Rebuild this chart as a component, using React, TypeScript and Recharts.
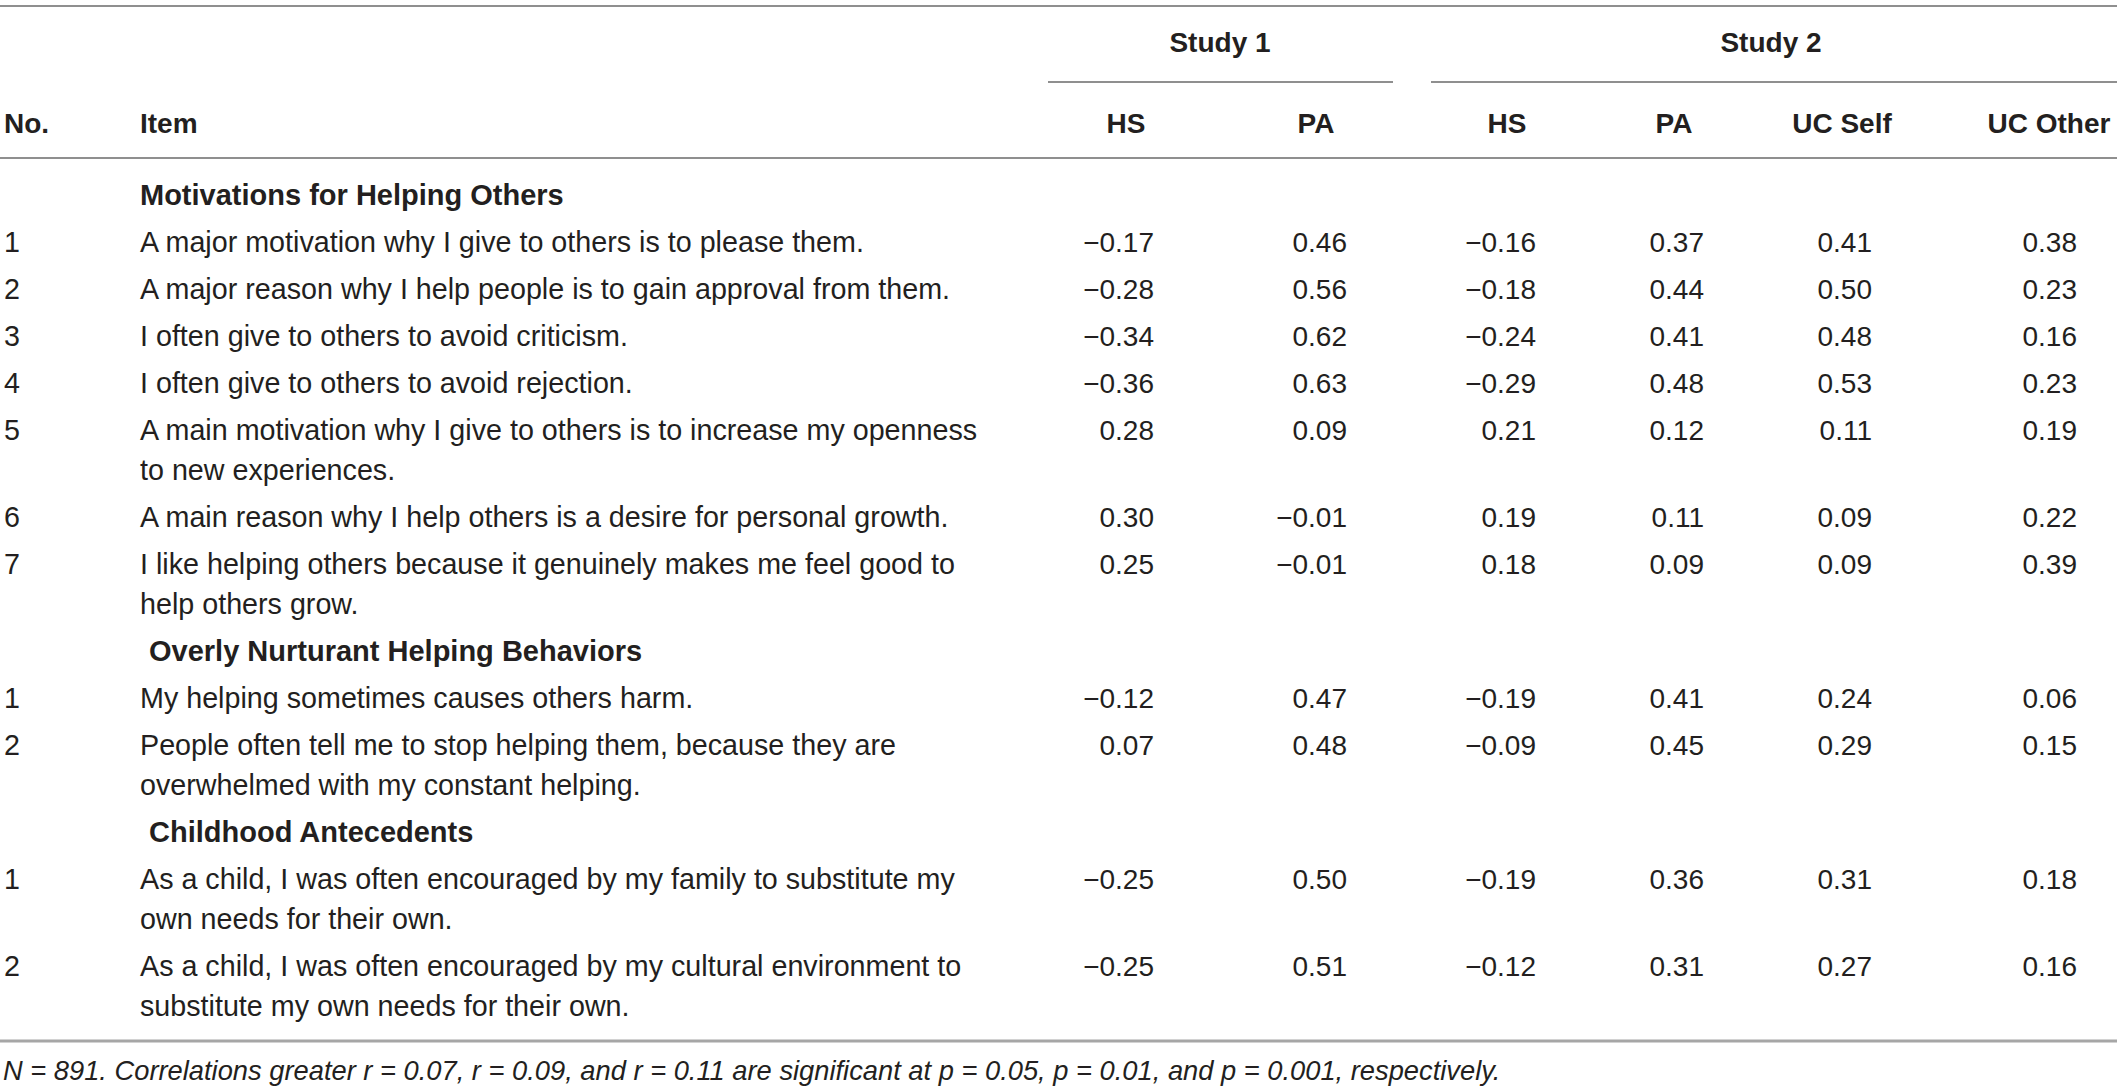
import React from "react";
import { ScatterChart, Scatter, XAxis, YAxis, ReferenceLine } from "recharts";

// ---------------- DATA ----------------
const studyLabels = ["Study 1", "Study 2"];
const columnLabels = ["HS", "PA", "HS", "PA", "UC Self", "UC Other"];
const leftHeaders = ["No.", "Item"];
const sections = [
  "Motivations for Helping Others",
  "Overly Nurturant Helping Behaviors",
  "Childhood Antecedents",
];
const itemSection = [0, 0, 0, 0, 0, 0, 0, 1, 1, 2, 2];
const itemNo = ["1", "2", "3", "4", "5", "6", "7", "1", "2", "1", "2"];
const itemLines = [
  ["A major motivation why I give to others is to please them."],
  ["A major reason why I help people is to gain approval from them."],
  ["I often give to others to avoid criticism."],
  ["I often give to others to avoid rejection."],
  ["A main motivation why I give to others is to increase my openness", "to new experiences."],
  ["A main reason why I help others is a desire for personal growth."],
  ["I like helping others because it genuinely makes me feel good to", "help others grow."],
  ["My helping sometimes causes others harm."],
  ["People often tell me to stop helping them, because they are", "overwhelmed with my constant helping."],
  ["As a child, I was often encouraged by my family to substitute my", "own needs for their own."],
  ["As a child, I was often encouraged by my cultural environment to", "substitute my own needs for their own."],
];
const study1HS = [-0.17, -0.28, -0.34, -0.36, 0.28, 0.3, 0.25, -0.12, 0.07, -0.25, -0.25];
const study1PA = [0.46, 0.56, 0.62, 0.63, 0.09, -0.01, -0.01, 0.47, 0.48, 0.5, 0.51];
const study2HS = [-0.16, -0.18, -0.24, -0.29, 0.21, 0.19, 0.18, -0.19, -0.09, -0.19, -0.12];
const study2PA = [0.37, 0.44, 0.41, 0.48, 0.12, 0.11, 0.09, 0.41, 0.45, 0.36, 0.31];
const study2UCSelf = [0.41, 0.5, 0.48, 0.53, 0.11, 0.09, 0.09, 0.24, 0.29, 0.31, 0.27];
const study2UCOther = [0.38, 0.23, 0.16, 0.23, 0.19, 0.22, 0.39, 0.06, 0.15, 0.18, 0.16];
const footnote =
  "N = 891. Correlations greater r = 0.07, r = 0.09, and r = 0.11 are significant at p = 0.05, p = 0.01, and p = 0.001, respectively.";

const valueColumns = [study1HS, study1PA, study2HS, study2PA, study2UCSelf, study2UCOther];

// ---------------- LAYOUT (style) ----------------
const W = 2117;
const H = 1090;
const FONT = '"Liberation Sans", Arial, Helvetica, sans-serif';
const INK = "#231f20";
const RULE = "#8f8f8f";
const FS_HEAD = 28;
const FS_SECTION = 29;
const FS_ITEM = 28.7;
const FS_NUM = 28;
const FS_FOOT = 27.3;
const COL_RIGHT = [1154, 1347, 1536, 1704, 1872, 2077];
const COL_HEADER_X = [1126, 1316, 1507, 1674, 1842, 2049];
const STUDY_X = [1220, 1771];
const STUDY_RULE = [
  [1048, 1393],
  [1431, 2117],
];
const LEFT_X = [4, 140];
const SECTION_X = [140, 149, 149];
const STUDY_Y = 42;
const HEADER_Y = 123;
const FIRST_ROW_Y = 195;
const ROW_STEP = 47;
const LINE_STEP = 40;
const FOOT_Y = 1070;

const fmt = (v: number) => (v < 0 ? "\u2212" + Math.abs(v).toFixed(2) : v.toFixed(2));

// Build positions of rows
type Row = { y: number; idx: number };
const sectionPts: any[] = [];
const itemRows: Row[] = [];
{
  let y = FIRST_ROW_Y;
  let cur = -1;
  itemLines.forEach((lines, i) => {
    if (itemSection[i] !== cur) {
      cur = itemSection[i];
      sectionPts.push({ x: SECTION_X[cur], y, text: sections[cur] });
      y += ROW_STEP;
    }
    itemRows.push({ y, idx: i });
    y += LINE_STEP * (lines.length - 1) + ROW_STEP;
  });
}

const noPts = itemRows.map((r) => ({ x: LEFT_X[0], y: r.y, text: itemNo[r.idx] }));
const itemPts = itemRows.map((r) => ({ x: LEFT_X[1], y: r.y, lines: itemLines[r.idx] }));
const valuePts = valueColumns.map((col, c) =>
  itemRows.map((r) => ({ x: COL_RIGHT[c], y: r.y, text: fmt(col[r.idx]) }))
);
const colHeaderPts = columnLabels.map((t, c) => ({ x: COL_HEADER_X[c], y: HEADER_Y, text: t }));
const leftHeaderPts = leftHeaders.map((t, i) => ({ x: LEFT_X[i], y: HEADER_Y, text: t }));
const studyPts = studyLabels.map((t, i) => ({ x: STUDY_X[i], y: STUDY_Y, text: t }));
const footPts = [{ x: 3, y: FOOT_Y, text: footnote }];

const textShape =
  (anchor: "start" | "middle" | "end", size: number, weight: string | number = "normal", style: string = "normal") =>
  (props: any) => {
    const { cx, cy, payload } = props;
    if (payload.lines) {
      return (
        <text fontFamily={FONT} fontSize={size} fill={INK} textAnchor={anchor} fontWeight={weight} fontStyle={style}>
          {payload.lines.map((l: string, k: number) => (
            <tspan key={k} x={cx} y={cy + k * LINE_STEP} dominantBaseline="central">
              {l}
            </tspan>
          ))}
        </text>
      );
    }
    return (
      <text
        x={cx}
        y={cy}
        fontFamily={FONT}
        fontSize={size}
        fill={INK}
        textAnchor={anchor}
        dominantBaseline="central"
        fontWeight={weight}
        fontStyle={style}
      >
        {payload.text}
      </text>
    );
  };

export default function App() {
  return (
    <div style={{ position: "absolute", left: 0, top: 0, width: W, height: H, background: "#fff" }}>
      <ScatterChart width={W} height={H} margin={{ top: 0, right: 0, bottom: 0, left: 0 }}>
        <XAxis type="number" dataKey="x" domain={[0, W]} hide allowDataOverflow />
        <YAxis type="number" dataKey="y" domain={[0, H]} reversed hide allowDataOverflow />
        <ReferenceLine segment={[{ x: 0, y: 6 }, { x: W, y: 6 }]} stroke={RULE} strokeWidth={2} ifOverflow="visible" />
        {STUDY_RULE.map((s, i) => (
          <ReferenceLine
            key={i}
            segment={[{ x: s[0], y: 82 }, { x: s[1], y: 82 }]}
            stroke={RULE}
            strokeWidth={2}
            ifOverflow="visible"
          />
        ))}
        <ReferenceLine segment={[{ x: 0, y: 158 }, { x: W, y: 158 }]} stroke={RULE} strokeWidth={2} ifOverflow="visible" />
        <ReferenceLine segment={[{ x: 0, y: 1041 }, { x: W, y: 1041 }]} stroke="#a6a6a6" strokeWidth={3} ifOverflow="visible" />

        <Scatter data={studyPts} shape={textShape("middle", FS_HEAD, "bold")} isAnimationActive={false} />
        <Scatter data={leftHeaderPts} shape={textShape("start", FS_HEAD, "bold")} isAnimationActive={false} />
        <Scatter data={colHeaderPts} shape={textShape("middle", FS_HEAD, "bold")} isAnimationActive={false} />
        <Scatter data={sectionPts} shape={textShape("start", FS_SECTION, "bold")} isAnimationActive={false} />
        <Scatter data={noPts} shape={textShape("start", FS_ITEM)} isAnimationActive={false} />
        <Scatter data={itemPts} shape={textShape("start", FS_ITEM)} isAnimationActive={false} />
        {valuePts.map((pts, c) => (
          <Scatter key={c} data={pts} shape={textShape("end", FS_NUM)} isAnimationActive={false} />
        ))}
        <Scatter data={footPts} shape={textShape("start", FS_FOOT, "normal", "italic")} isAnimationActive={false} />
      </ScatterChart>
    </div>
  );
}
